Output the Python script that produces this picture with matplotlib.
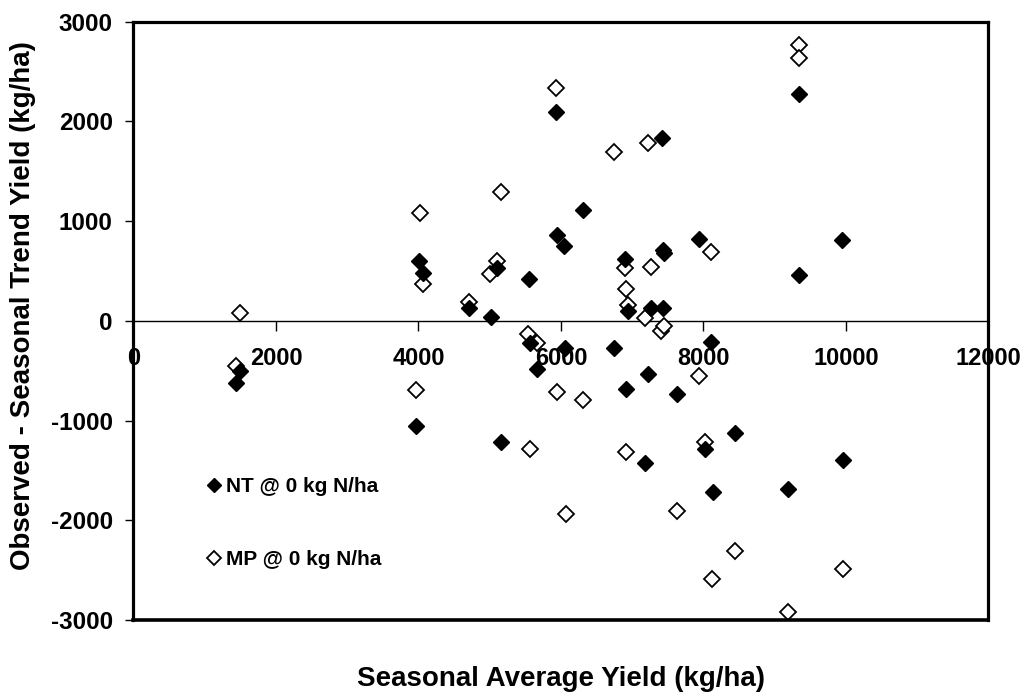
import numpy as np
import matplotlib.pyplot as plt

plt.rcParams['font.family'] = ['Liberation Sans', 'DejaVu Sans']
plt.rcParams['font.weight'] = 'bold'
plt.rcParams['axes.unicode_minus'] = False

# NT @ 0 kg N/ha (filled diamonds)
nt_x = [1440, 1495, 3965, 4010, 4070, 4710, 5020, 5100, 5160, 5550,
        5565, 5660, 5930, 5940, 6040, 6055, 6310, 6745, 6900, 6910,
        6945, 7180, 7215, 7270, 7420, 7430, 7445, 7435, 7625, 7940,
        8020, 8105, 8130, 8440, 9180, 9340, 9345, 9940, 9960]
nt_y = [-620, -500, -1055, 600, 480, 130, 40, 535, -1210, 420,
        -225, -485, 2090, 860, 750, -275, 1110, -275, 620, -685,
        100, -1425, -530, 130, 1830, 710, 680, 130, -735, 820,
        -1285, -215, -1720, -1120, -1685, 2280, 460, 810, -1400]

# MP @ 0 kg N/ha (open diamonds)
mp_x = [1440, 1490, 3965, 4020, 4070, 4710, 5010, 5100, 5160, 5540,
        5565, 5670, 5930, 5940, 6065, 6305, 6740, 6900, 6910, 6910,
        6945, 7180, 7220, 7270, 7410, 7445, 7625, 7940, 8020, 8105,
        8125, 8440, 9180, 9340, 9340, 9960]
mp_y = [-450, 80, -690, 1080, 370, 190, 470, 600, 1290, -135,
        -1280, -225, 2340, -715, -1935, -790, 1690, 530, 320, -1310,
        160, 30, 1780, 545, -100, -50, -1910, -550, -1215, 690,
        -2590, -2305, -2915, 2770, 2640, -2490]

x_ticks = np.arange(0, 12001, 2000)
y_ticks = np.arange(-3000, 3001, 1000)

fig = plt.figure(figsize=(10.3, 6.98), dpi=100)
ax = fig.add_axes([0.1296, 0.1117, 0.8301, 0.8572])

ax.plot(mp_x, mp_y, linestyle='none', marker='D', ms=8, mfc='white',
        mec='black', mew=1.3, label='MP @ 0 kg N/ha', zorder=3)
ax.plot(nt_x, nt_y, linestyle='none', marker='D', ms=8, mfc='black',
        mec='black', label='NT @ 0 kg N/ha', zorder=4)

ax.set_xlim(0, 12000)
ax.set_ylim(-3000, 3000)
ax.set_xticks(x_ticks)
ax.set_yticks(y_ticks)

# frame
for side in ['left', 'top', 'right']:
    ax.spines[side].set_linewidth(2.3)
ax.spines['bottom'].set_position(('data', 0))
ax.spines['bottom'].set_linewidth(1)
ax.axhline(-3000, color='black', lw=2.6, clip_on=False, zorder=5)

ax.tick_params(axis='x', direction='out', length=7, width=1,
               labelsize=17, pad=12)
ax.tick_params(axis='y', direction='out', length=6, width=1,
               labelsize=17.5, pad=9)
for lab in ax.get_xticklabels() + ax.get_yticklabels():
    lab.set_fontweight('bold')

ax.set_xlabel('Seasonal Average Yield (kg/ha)', fontsize=20,
              fontweight='bold', va='center')
ax.xaxis.set_label_coords(0.5, -0.098)
ax.set_ylabel('Observed - Seasonal Trend Yield (kg/ha)', fontsize=20,
              fontweight='bold')
ax.yaxis.set_label_coords(-0.114, 0.526)

handles, labels = ax.get_legend_handles_labels()
ax.legend(handles[::-1], labels[::-1], loc='upper left',
          bbox_to_anchor=(0.0645, 0.27), frameon=False,
          prop={'size': 15, 'weight': 'bold'}, handlelength=0.6,
          handletextpad=0.3, labelspacing=2.6, markerscale=0.9)

fig.savefig('out.png', dpi=100)
